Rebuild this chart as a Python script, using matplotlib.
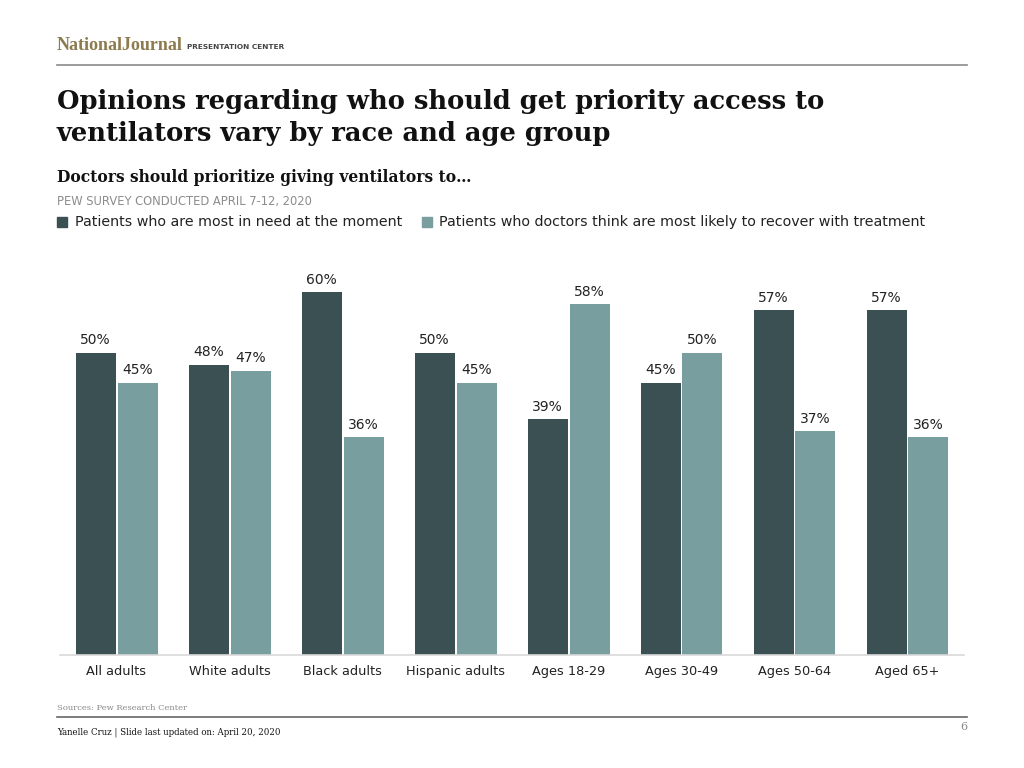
import numpy as np
import matplotlib.pyplot as plt

# Data
categories = ["All adults", "White adults", "Black adults", "Hispanic adults",
              "Ages 18-29", "Ages 30-49", "Ages 50-64", "Aged 65+"]
most_in_need = [50, 48, 60, 50, 39, 45, 57, 57]
likely_recover = [45, 47, 36, 45, 58, 50, 37, 36]
series_names = ["Patients who are most in need at the moment",
                "Patients who doctors think are most likely to recover with treatment"]

DARK = "#3b5052"
LIGHT = "#789e9f"


def main():
    fig = plt.figure(figsize=(10.24, 7.68), dpi=100)
    fig.patch.set_facecolor("white")

    # Header
    fig.text(57 / 1024, 1 - 45 / 768, "NationalJournal", family="Liberation Serif",
             fontweight="bold", fontsize=13, color="#8c7b4e", va="center")
    fig.text(187 / 1024, 1 - 47 / 768, "PRESENTATION CENTER", family="DejaVu Sans",
             fontweight="bold", fontsize=5.3, color="#444444", va="center")
    fig.add_artist(plt.Line2D([57 / 1024, 967 / 1024], [1 - 65 / 768] * 2,
                              color="#8a8a8a", lw=1.2, transform=fig.transFigure))

    # Titles
    fig.text(57 / 1024, 1 - 101 / 768,
             "Opinions regarding who should get priority access to",
             family="DejaVu Serif", fontweight="bold", fontsize=18.5,
             color="#111111", va="center")
    fig.text(57 / 1024, 1 - 133 / 768,
             "ventilators vary by race and age group",
             family="DejaVu Serif", fontweight="bold", fontsize=18.5,
             color="#111111", va="center")
    fig.text(57 / 1024, 1 - 177 / 768, "Doctors should prioritize giving ventilators to…",
             family="DejaVu Serif", fontweight="bold", fontsize=11.2,
             color="#111111", va="center")
    fig.text(57 / 1024, 1 - 201 / 768, "PEW SURVEY CONDUCTED APRIL 7-12, 2020",
             fontsize=8.3, color="#8c8c8c", va="center")

    # Legend
    for sx, tx, col, name in [(57, 75, DARK, series_names[0]),
                              (422, 439, LIGHT, series_names[1])]:
        fig.patches.append(plt.Rectangle((sx / 1024, 1 - 227 / 768), 10 / 1024, 10 / 768,
                                         transform=fig.transFigure, color=col))
        fig.text(tx / 1024, 1 - 222 / 768, name, fontsize=10.3, color="#222222",
                 va="center")

    # Chart
    ax = fig.add_axes([60 / 1024, 1 - 655 / 768, 904 / 1024, 399 / 768])
    x = np.arange(len(categories))
    off = 21 / 113
    w = 40 / 113
    b1 = ax.bar(x - off, most_in_need, w, color=DARK)
    b2 = ax.bar(x + off, likely_recover, w, color=LIGHT)
    for bars, vals in [(b1, most_in_need), (b2, likely_recover)]:
        for bar, v in zip(bars, vals):
            ax.annotate(f"{v}%", (bar.get_x() + bar.get_width() / 2, v),
                        xytext=(0, 4), textcoords="offset points",
                        ha="center", va="bottom", fontsize=10, color="#222222")

    ax.set_xlim(-0.5, len(categories) - 0.5)
    ax.set_ylim(0, 66)
    ax.set_xticks(x)
    ax.set_xticklabels(categories, fontsize=9.3, color="#222222")
    ax.tick_params(axis="x", length=0, pad=7)
    ax.set_yticks([])
    for s in ["top", "right", "left"]:
        ax.spines[s].set_visible(False)
    ax.spines["bottom"].set_color("#d9d9d9")
    ax.spines["bottom"].set_linewidth(1.2)

    # Footer
    fig.text(57 / 1024, 1 - 708 / 768, "Sources: Pew Research Center",
             family="DejaVu Serif", fontsize=6.0, color="#888888", va="center")
    fig.add_artist(plt.Line2D([57 / 1024, 967 / 1024], [1 - 717 / 768] * 2,
                              color="#666666", lw=1.2, transform=fig.transFigure))
    fig.text(57 / 1024, 1 - 732 / 768, "Yanelle Cruz | Slide last updated on: April 20, 2020",
             family="DejaVu Serif", fontsize=6.2, color="#111111", va="center")
    fig.text(967 / 1024, 1 - 727 / 768, "6", family="DejaVu Serif", fontsize=8,
             color="#888888", va="center", ha="right")

    plt.savefig("out.png", dpi=100)


if __name__ == "__main__":
    main()
